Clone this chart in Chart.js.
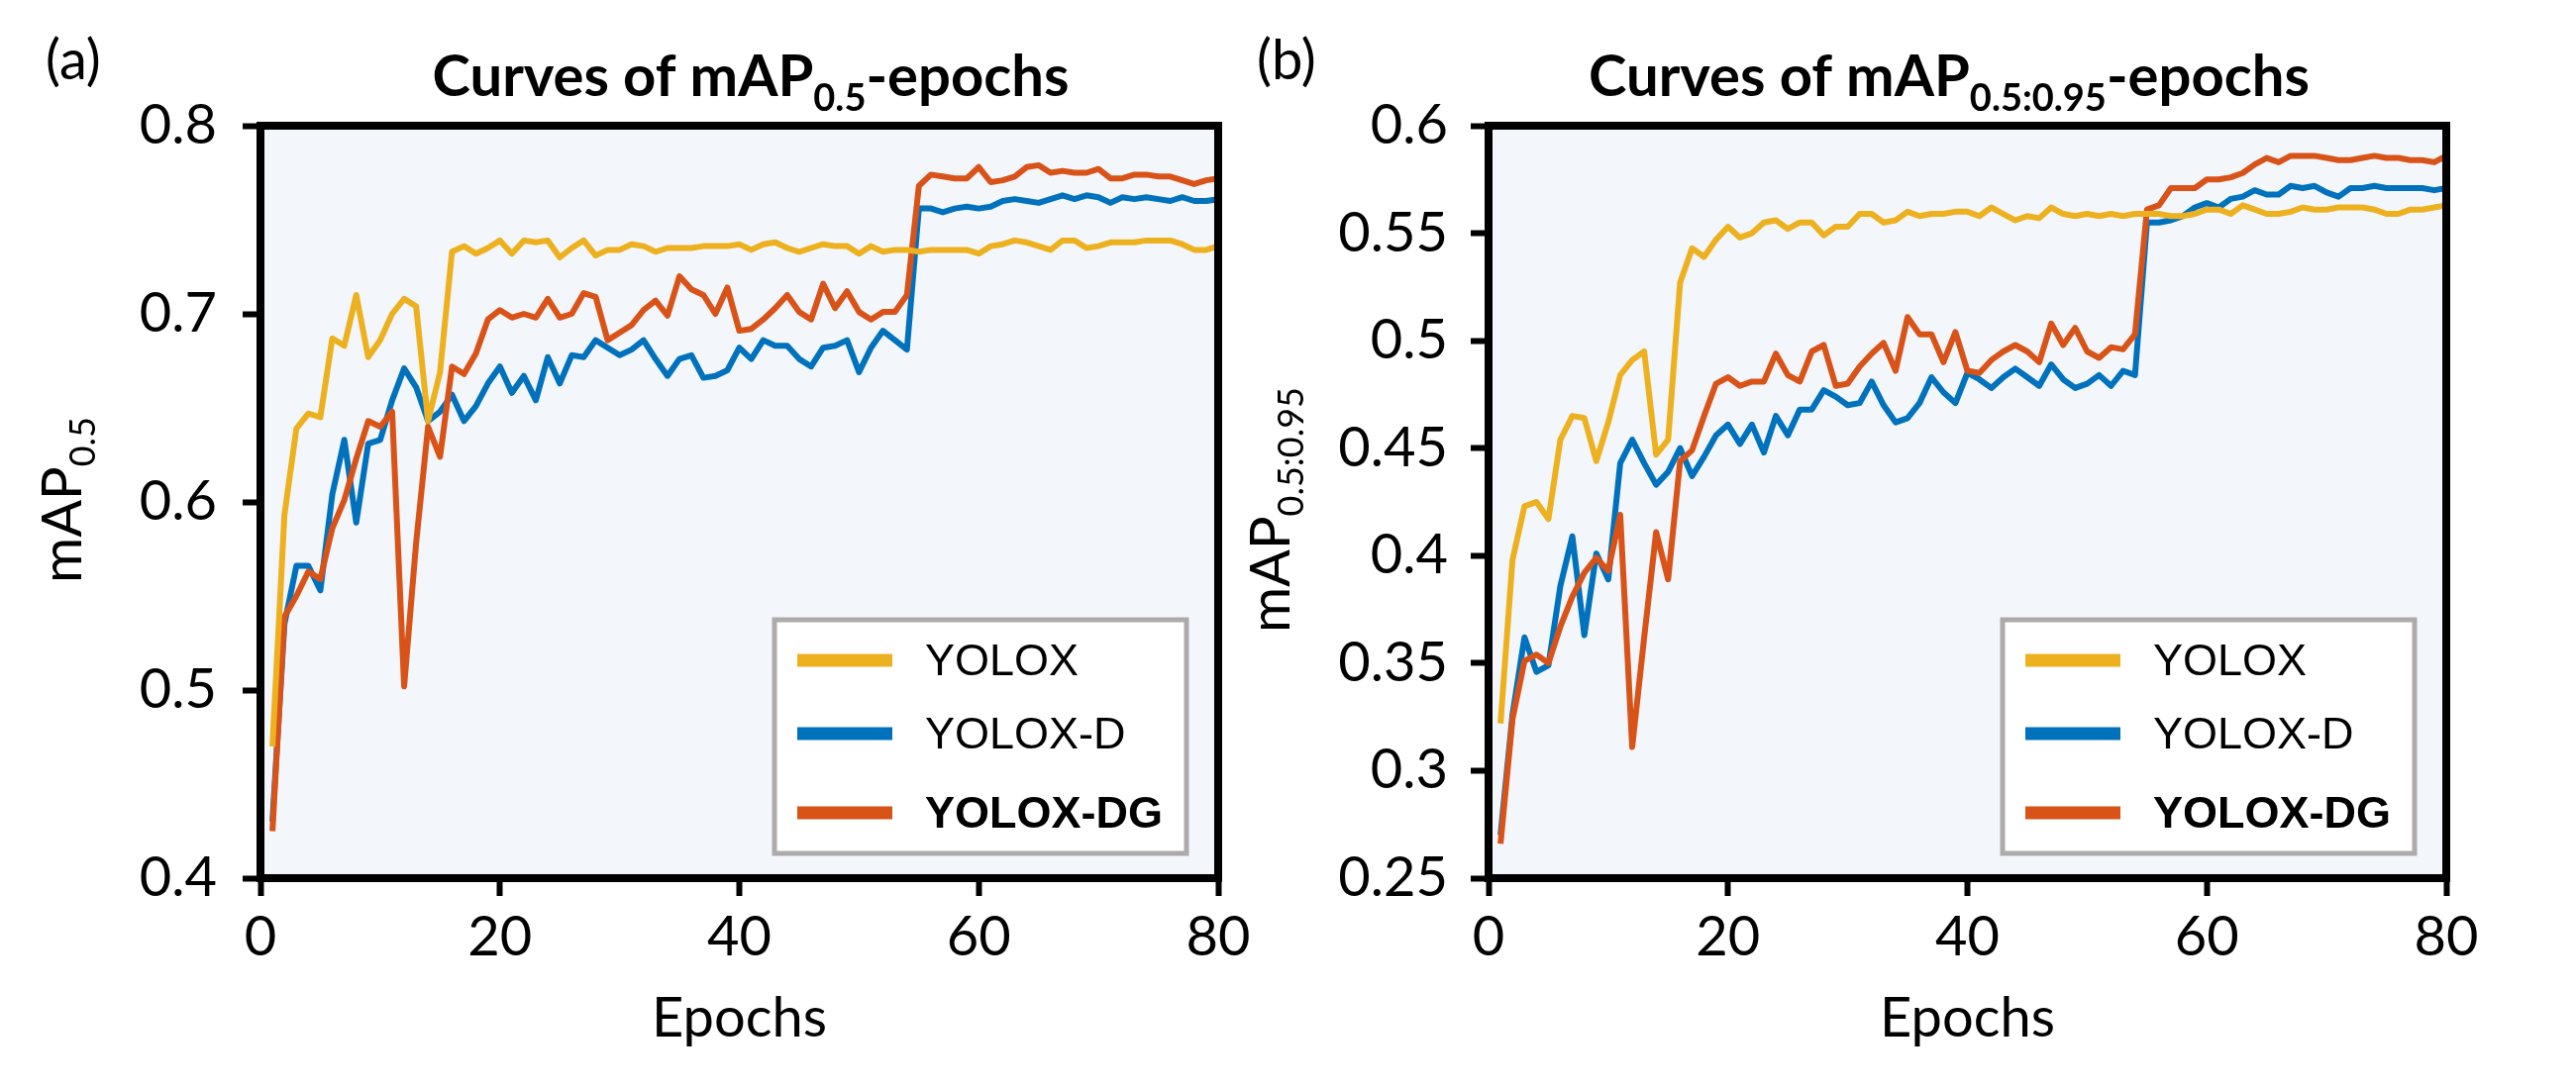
<!DOCTYPE html>
<html>
<head>
<meta charset="utf-8">
<script src="https://cdn.jsdelivr.net/npm/chart.js@4.4.1/dist/chart.umd.min.js"></script>
<style>
  html, body { margin: 0; padding: 0; background: #ffffff; }
  #wrap { position: relative; width: 2601px; height: 1103px; overflow: hidden; }
  canvas { position: absolute; top: 0; }
  #chartA { left: 0; }
  #chartB { left: 1240px; }
</style>
</head>
<body>
<div id="wrap">
  <canvas id="chartA" width="1300" height="1103"></canvas>
  <canvas id="chartB" width="1361" height="1103"></canvas>
</div>
<script>
const epochs = [
  1, 2, 3, 4, 5, 6, 7, 8, 9, 10, 11, 12, 13, 14, 15, 16, 17, 18, 19, 20,
  21, 22, 23, 24, 25, 26, 27, 28, 29, 30, 31, 32, 33, 34, 35, 36, 37, 38, 39, 40,
  41, 42, 43, 44, 45, 46, 47, 48, 49, 50, 51, 52, 53, 54, 55, 56, 57, 58, 59, 60,
  61, 62, 63, 64, 65, 66, 67, 68, 69, 70, 71, 72, 73, 74, 75, 76, 77, 78, 79, 80
];

const seriesNames = ["YOLOX", "YOLOX-D", "YOLOX-DG"];
const seriesColors = ["#EDB120", "#0072BD", "#D95319"];

// (a) mAP@0.5
const map50Yolox = [
  0.470, 0.593, 0.639, 0.647, 0.645, 0.687, 0.683, 0.710, 0.677, 0.686,
  0.700, 0.708, 0.704, 0.643, 0.669, 0.733, 0.736, 0.732, 0.735, 0.739,
  0.732, 0.739, 0.738, 0.739, 0.730, 0.735, 0.739, 0.731, 0.734, 0.734,
  0.737, 0.736, 0.733, 0.735, 0.735, 0.735, 0.736, 0.736, 0.736, 0.737,
  0.734, 0.737, 0.738, 0.735, 0.733, 0.735, 0.737, 0.736, 0.736, 0.732,
  0.736, 0.733, 0.734, 0.734, 0.733, 0.734, 0.734, 0.734, 0.734, 0.732,
  0.736, 0.737, 0.739, 0.738, 0.736, 0.734, 0.739, 0.739, 0.735, 0.736,
  0.738, 0.738, 0.738, 0.739, 0.739, 0.739, 0.737, 0.734, 0.734, 0.736
];
const map50YoloxD = [
  0.430, 0.535, 0.566, 0.566, 0.553, 0.604, 0.633, 0.589, 0.631, 0.633,
  0.654, 0.671, 0.661, 0.643, 0.648, 0.657, 0.643, 0.651, 0.663, 0.672,
  0.658, 0.667, 0.654, 0.677, 0.663, 0.678, 0.677, 0.686, 0.682, 0.678,
  0.681, 0.686, 0.676, 0.667, 0.676, 0.678, 0.666, 0.667, 0.670, 0.682,
  0.676, 0.686, 0.683, 0.683, 0.676, 0.672, 0.682, 0.683, 0.686, 0.669,
  0.682, 0.691, 0.686, 0.681, 0.756, 0.756, 0.754, 0.756, 0.757, 0.756,
  0.757, 0.760, 0.761, 0.760, 0.759, 0.761, 0.763, 0.761, 0.763, 0.762,
  0.759, 0.762, 0.761, 0.762, 0.761, 0.760, 0.762, 0.760, 0.760, 0.761
];
const map50YoloxDG = [
  0.425, 0.539, 0.550, 0.563, 0.559, 0.586, 0.601, 0.623, 0.643, 0.640,
  0.648, 0.502, 0.578, 0.640, 0.624, 0.672, 0.668, 0.679, 0.697, 0.702,
  0.698, 0.700, 0.698, 0.708, 0.698, 0.700, 0.711, 0.709, 0.686, 0.690,
  0.694, 0.702, 0.707, 0.699, 0.720, 0.713, 0.710, 0.700, 0.714, 0.691,
  0.692, 0.697, 0.703, 0.710, 0.701, 0.697, 0.716, 0.703, 0.712, 0.701,
  0.697, 0.701, 0.701, 0.710, 0.768, 0.774, 0.773, 0.772, 0.772, 0.778,
  0.770, 0.771, 0.773, 0.778, 0.779, 0.775, 0.776, 0.775, 0.775, 0.777,
  0.772, 0.772, 0.774, 0.774, 0.773, 0.773, 0.771, 0.769, 0.771, 0.772
];

// (b) mAP@0.5:0.95
const map5095Yolox = [
  0.322, 0.398, 0.423, 0.425, 0.417, 0.454, 0.465, 0.464, 0.444, 0.462,
  0.484, 0.491, 0.495, 0.447, 0.454, 0.527, 0.543, 0.539, 0.547, 0.553,
  0.548, 0.550, 0.555, 0.556, 0.552, 0.555, 0.555, 0.549, 0.553, 0.553,
  0.559, 0.559, 0.555, 0.556, 0.560, 0.558, 0.559, 0.559, 0.560, 0.560,
  0.558, 0.562, 0.559, 0.556, 0.558, 0.557, 0.562, 0.559, 0.558, 0.559,
  0.558, 0.559, 0.558, 0.559, 0.559, 0.559, 0.558, 0.558, 0.559, 0.561,
  0.561, 0.559, 0.563, 0.561, 0.559, 0.559, 0.560, 0.562, 0.561, 0.561,
  0.562, 0.562, 0.562, 0.561, 0.559, 0.559, 0.561, 0.561, 0.562, 0.563
];
const map5095YoloxD = [
  0.270, 0.326, 0.362, 0.346, 0.349, 0.386, 0.409, 0.363, 0.401, 0.389,
  0.443, 0.454, 0.443, 0.433, 0.439, 0.450, 0.437, 0.446, 0.456, 0.461,
  0.452, 0.461, 0.448, 0.465, 0.456, 0.468, 0.468, 0.477, 0.474, 0.470,
  0.471, 0.481, 0.470, 0.462, 0.464, 0.471, 0.483, 0.476, 0.471, 0.485,
  0.482, 0.478, 0.483, 0.487, 0.483, 0.479, 0.489, 0.482, 0.478, 0.480,
  0.484, 0.479, 0.486, 0.484, 0.555, 0.555, 0.556, 0.558, 0.562, 0.564,
  0.562, 0.566, 0.567, 0.570, 0.568, 0.568, 0.572, 0.571, 0.572, 0.569,
  0.567, 0.571, 0.571, 0.572, 0.571, 0.571, 0.571, 0.571, 0.570, 0.571
];
const map5095YoloxDG = [
  0.266, 0.324, 0.351, 0.354, 0.350, 0.367, 0.381, 0.392, 0.399, 0.393,
  0.419, 0.311, 0.362, 0.411, 0.389, 0.444, 0.449, 0.465, 0.480, 0.483,
  0.479, 0.481, 0.481, 0.494, 0.484, 0.481, 0.495, 0.498, 0.479, 0.480,
  0.488, 0.494, 0.499, 0.486, 0.511, 0.503, 0.503, 0.490, 0.504, 0.486,
  0.485, 0.491, 0.495, 0.498, 0.495, 0.490, 0.508, 0.498, 0.506, 0.495,
  0.492, 0.497, 0.496, 0.503, 0.561, 0.563, 0.571, 0.571, 0.571, 0.575,
  0.575, 0.576, 0.578, 0.582, 0.585, 0.583, 0.586, 0.586, 0.586, 0.585,
  0.584, 0.584, 0.585, 0.586, 0.585, 0.585, 0.584, 0.584, 0.583, 0.586
];

const xTicks = [0, 20, 40, 60, 80];
const yTicksA = [0.4, 0.5, 0.6, 0.7, 0.8];
const yTicksB = [0.25, 0.3, 0.35, 0.4, 0.45, 0.5, 0.55, 0.6];

const FONT = "Lato, 'Open Sans', sans-serif";
const plotBg = "#f3f7fc";

// draws a run of text pieces (main + subscript) centred on x
function drawRuns(ctx, runs, x, y) {
  let total = 0;
  runs.forEach((r) => { ctx.font = r.font; total += ctx.measureText(r.text).width; });
  let cx = x - total / 2;
  ctx.textAlign = "left";
  ctx.textBaseline = "alphabetic";
  runs.forEach((r) => {
    ctx.font = r.font;
    ctx.fillText(r.text, cx, y + (r.dy || 0));
    cx += ctx.measureText(r.text).width;
  });
}

const decor = {
  id: "decor",
  beforeDraw(chart, args, opts) {
    const { ctx, chartArea: a } = chart;
    ctx.save();
    ctx.fillStyle = plotBg;
    ctx.fillRect(a.left, a.top, a.right - a.left, a.bottom - a.top);
    ctx.restore();
  },
  afterDatasetsDraw(chart, args, opts) {
    const { ctx, chartArea: a } = chart;
    ctx.save();
    ctx.strokeStyle = "#000";
    ctx.lineWidth = 8;
    ctx.strokeRect(a.left, a.top, a.right - a.left, a.bottom - a.top);
    ctx.restore();
  },
  afterDraw(chart, args, opts) {
    const { ctx, chartArea: a } = chart;
    ctx.save();
    ctx.fillStyle = "#000";

    // panel tag
    ctx.font = "56px " + FONT;
    ctx.textAlign = "left";
    ctx.textBaseline = "alphabetic";
    ctx.fillText(opts.tag, opts.tagX, 80);

    // title with subscript
    drawRuns(ctx, [
      { text: "Curves of mAP", font: "bold 58px " + FONT },
      { text: opts.sub, font: "bold 38px " + FONT, dy: 15 },
      { text: "-epochs", font: "bold 58px " + FONT }
    ], opts.titleX, 97);

    // y axis label, rotated
    ctx.save();
    ctx.translate(opts.ylabelX, opts.ylabelY);
    ctx.rotate(-Math.PI / 2);
    drawRuns(ctx, [
      { text: "mAP", font: "56px " + FONT },
      { text: opts.sub, font: "36px " + FONT, dy: 14 }
    ], 0, 0);
    ctx.restore();

    // legend box in lower right of the plot
    const bw = 416, bh = 236;
    const bx = a.right - 32 - bw, by = a.bottom - 25 - bh;
    ctx.fillStyle = "#ffffff";
    ctx.fillRect(bx, by, bw, bh);
    ctx.strokeStyle = "#aeaaaa";
    ctx.lineWidth = 5;
    ctx.strokeRect(bx, by, bw, bh);
    const rows = [41, 115, 195];
    chart.data.datasets.forEach((ds, i) => {
      const ly = by + rows[i];
      ctx.strokeStyle = ds.borderColor;
      ctx.lineWidth = 13;
      ctx.lineCap = "butt";
      ctx.beginPath();
      ctx.moveTo(bx + 23, ly);
      ctx.lineTo(bx + 119, ly);
      ctx.stroke();
      ctx.fillStyle = "#000";
      ctx.font = (i === 2 ? "bold " : "") + "45px 'Liberation Sans', Arial, sans-serif";
      ctx.textAlign = "left";
      ctx.textBaseline = "middle";
      ctx.fillText(ds.label, bx + 152, ly + 3);
    });
    ctx.restore();
  }
};

function makeSeries(values, i) {
  return {
    label: seriesNames[i],
    data: epochs.map((e, k) => ({ x: e, y: values[k] })),
    borderColor: seriesColors[i],
    backgroundColor: seriesColors[i],
    borderWidth: 6,
    borderJoinStyle: "round",
    pointRadius: 0,
    tension: 0,
    fill: false,
    order: [0, 2, 1][i]
  };
}

function makeChart(id, series, yTicks, cfg) {
  const ctx = document.getElementById(id).getContext("2d");
  return new Chart(ctx, {
    type: "line",
    data: { datasets: series.map(makeSeries) },
    options: {
      responsive: false,
      animation: false,
      events: [],
      layout: { padding: { top: 127, right: cfg.padRight, bottom: 0, left: 0 } },
      plugins: {
        legend: { display: false },
        tooltip: { enabled: false },
        title: { display: false },
        decor: cfg.decor
      },
      scales: {
        x: {
          type: "linear",
          min: xTicks[0],
          max: xTicks[xTicks.length - 1],
          afterBuildTicks: (s) => { s.ticks = xTicks.map((v) => ({ value: v })); },
          afterFit: (s) => { s.height = 216; },
          ticks: { color: "#000", font: { family: FONT, size: 56 }, padding: 8, maxRotation: 0 },
          grid: { drawOnChartArea: false, tickLength: 18, tickWidth: 6, color: "#000" },
          border: { display: false },
          title: {
            display: true,
            text: "Epochs",
            color: "#000",
            font: { family: FONT, size: 56 },
            padding: { top: 0, bottom: 40 }
          }
        },
        y: {
          type: "linear",
          min: yTicks[0],
          max: yTicks[yTicks.length - 1],
          afterBuildTicks: (s) => { s.ticks = yTicks.map((v) => ({ value: v })); },
          afterFit: (s) => { s.width = 263; },
          ticks: {
            color: "#000",
            font: { family: FONT, size: 56 },
            padding: cfg.yPad,
            callback: (v) => parseFloat(Number(v).toFixed(2)).toString()
          },
          grid: { drawOnChartArea: false, tickLength: 18, tickWidth: 6, color: "#000" },
          border: { display: false }
        }
      }
    },
    plugins: [decor]
  });
}

makeChart("chartA", [map50Yolox, map50YoloxD, map50YoloxDG], yTicksA, {
  padRight: 70,
  yPad: 26,
  decor: { tag: "(a)", tagX: 46, sub: "0.5", titleX: 758, ylabelX: 82, ylabelY: 505 }
});

makeChart("chartB", [map5095Yolox, map5095YoloxD, map5095YoloxDG], yTicksB, {
  padRight: 131,
  yPad: 23,
  decor: { tag: "(b)", tagX: 29, sub: "0.5:0.95", titleX: 728, ylabelX: 62, ylabelY: 515 }
});
</script>
</body>
</html>
